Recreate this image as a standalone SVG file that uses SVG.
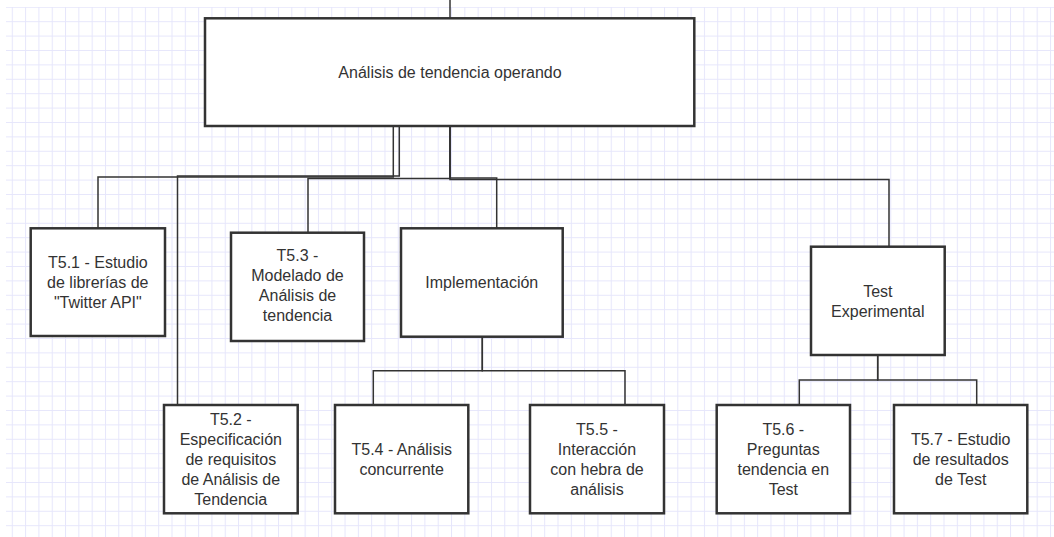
<svg xmlns="http://www.w3.org/2000/svg" width="1054" height="537" viewBox="0 0 1054 537">
<defs>
<pattern id="grid" patternUnits="userSpaceOnUse" x="11.8" y="6.8" width="13.31" height="14.4">
<path d="M0.5 0 V14.4 M0 0.5 H13.31" fill="none" stroke="#e6e6fb" stroke-width="1"/>
</pattern>
<style>
.box{fill:#ffffff;stroke:#333333;stroke-width:2.5}
.lbl{font-family:"Liberation Sans",Arial,sans-serif;font-size:16px;fill:#333333;text-anchor:middle}
.con{fill:none;stroke:#333333;stroke-width:1.5}
</style>
</defs>
<rect x="0" y="0" width="1054" height="537" fill="#ffffff"/>
<rect x="6" y="7" width="1048" height="530" fill="url(#grid)"/>
<g id="connectors">
<path class="con" d="M450 0 V18.3"/>
<path class="con" d="M393.3 126 V177 H98 V228.3"/>
<path class="con" d="M399.3 126 V176 H177.5 V405"/>
<path class="con" d="M450 126 V178.5 H308 V232.7"/>
<path class="con" d="M450 126 V178 H496.7 V228.3"/>
<path class="con" d="M450 126 V179.5 H889 V246.7"/>
<path class="con" d="M482.3 336.7 V370.7 H373.3 V405"/>
<path class="con" d="M482.3 336.7 V370.7 H625 V405"/>
<path class="con" d="M877.7 355 V380 H799.3 V405"/>
<path class="con" d="M877.7 355 V380 H976.7 V405"/>
</g>
<g id="root">
<rect class="box" x="205" y="18.3" width="489.3" height="107.7"/>
<text class="lbl" x="450" y="78">Análisis de tendencia operando</text>
</g>
<g id="t51">
<rect class="box" x="30.7" y="228.3" width="134.3" height="107.7"/>
<text class="lbl" x="97.8" y="268">T5.1 - Estudio<tspan x="97.8" dy="20">de librerías de</tspan><tspan x="97.8" dy="20">"Twitter API"</tspan></text>
</g>
<g id="t52">
<rect class="box" x="164" y="405" width="133.7" height="108.3"/>
<text class="lbl" x="230.8" y="424.5">T5.2 -<tspan x="230.8" dy="20">Especificación</tspan><tspan x="230.8" dy="20">de requisitos</tspan><tspan x="230.8" dy="20">de Análisis de</tspan><tspan x="230.8" dy="20">Tendencia</tspan></text>
</g>
<g id="t53">
<rect class="box" x="231" y="232.7" width="133" height="108.3"/>
<text class="lbl" x="297.5" y="261">T5.3 -<tspan x="297.5" dy="20">Modelado de</tspan><tspan x="297.5" dy="20">Análisis de</tspan><tspan x="297.5" dy="20">tendencia</tspan></text>
</g>
<g id="impl">
<rect class="box" x="401" y="228.3" width="161.7" height="108.4"/>
<text class="lbl" x="481.8" y="288">Implementación</text>
</g>
<g id="test">
<rect class="box" x="811" y="246.7" width="133.7" height="108.3"/>
<text class="lbl" x="877.8" y="296.5">Test<tspan x="877.8" dy="20">Experimental</tspan></text>
</g>
<g id="t54">
<rect class="box" x="335" y="405" width="133.3" height="108.3"/>
<text class="lbl" x="401.7" y="454.5">T5.4 - Análisis<tspan x="401.7" dy="20">concurrente</tspan></text>
</g>
<g id="t55">
<rect class="box" x="530" y="405" width="134" height="108.3"/>
<text class="lbl" x="597" y="434.5">T5.5 -<tspan x="597" dy="20">Interacción</tspan><tspan x="597" dy="20">con hebra de</tspan><tspan x="597" dy="20">análisis</tspan></text>
</g>
<g id="t56">
<rect class="box" x="716.7" y="405" width="133.3" height="108.3"/>
<text class="lbl" x="783.3" y="434.5">T5.6 -<tspan x="783.3" dy="20">Preguntas</tspan><tspan x="783.3" dy="20">tendencia en</tspan><tspan x="783.3" dy="20">Test</tspan></text>
</g>
<g id="t57">
<rect class="box" x="894" y="405" width="133.3" height="108.3"/>
<text class="lbl" x="960.7" y="444.5">T5.7 - Estudio<tspan x="960.7" dy="20">de resultados</tspan><tspan x="960.7" dy="20">de Test</tspan></text>
</g>
</svg>
